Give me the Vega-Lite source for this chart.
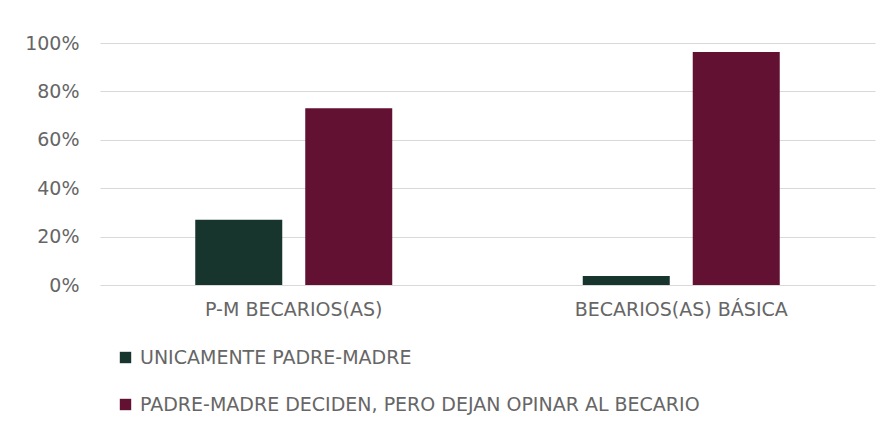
{
  "$schema": "https://vega.github.io/schema/vega-lite/v6.json",
  "width": 775,
  "height": 242,
  "autosize": "none",
  "padding": {"left": 100, "top": 43, "right": 18, "bottom": 146},
  "background": "white",
  "data": {"values": [
    {"grupo": "P-M BECARIOS(AS)", "serie": "UNICAMENTE PADRE-MADRE", "valor": 0.27},
    {"grupo": "P-M BECARIOS(AS)", "serie": "PADRE-MADRE DECIDEN, PERO DEJAN OPINAR AL BECARIO", "valor": 0.73},
    {"grupo": "BECARIOS(AS) BÁSICA", "serie": "UNICAMENTE PADRE-MADRE", "valor": 0.037},
    {"grupo": "BECARIOS(AS) BÁSICA", "serie": "PADRE-MADRE DECIDEN, PERO DEJAN OPINAR AL BECARIO", "valor": 0.963}
  ]},
  "mark": {"type": "bar"},
  "encoding": {
    "x": {"field": "grupo", "type": "nominal", "sort": null,
      "scale": {"paddingInner": 0, "paddingOuter": 0},
      "axis": {"title": null, "labelAngle": 0, "domain": false, "ticks": false, "labelPadding": 15, "labelFontSize": 19, "labelColor": "#666666", "labelFont": "DejaVu Sans", "labelLimit": 400}},
    "xOffset": {"field": "serie", "type": "nominal", "sort": null,
      "scale": {"paddingInner": 0.209, "paddingOuter": 0.866}},
    "y": {"field": "valor", "type": "quantitative",
      "scale": {"domain": [0, 1]},
      "axis": {"title": null, "format": ".0%", "values": [0, 0.2, 0.4, 0.6, 0.8, 1], "labelOverlap": false, "domain": false, "ticks": false, "labelPadding": 21, "labelFontSize": 19, "labelColor": "#666666", "labelFont": "DejaVu Sans", "gridColor": "#d9d9d9", "gridWidth": 1}},
    "color": {"field": "serie", "type": "nominal", "sort": null,
      "scale": {"range": ["#17352d", "#621132"]},
      "legend": {"title": null, "orient": "none", "legendX": 16, "legendY": 305, "direction": "vertical", "symbolType": "square", "symbolSize": 130, "labelFontSize": 19, "labelColor": "#666666", "labelFont": "DejaVu Sans", "labelLimit": 800, "rowPadding": 27, "labelOffset": 5, "symbolStrokeWidth": 0}}
  },
  "config": {"view": {"stroke": null}}
}
